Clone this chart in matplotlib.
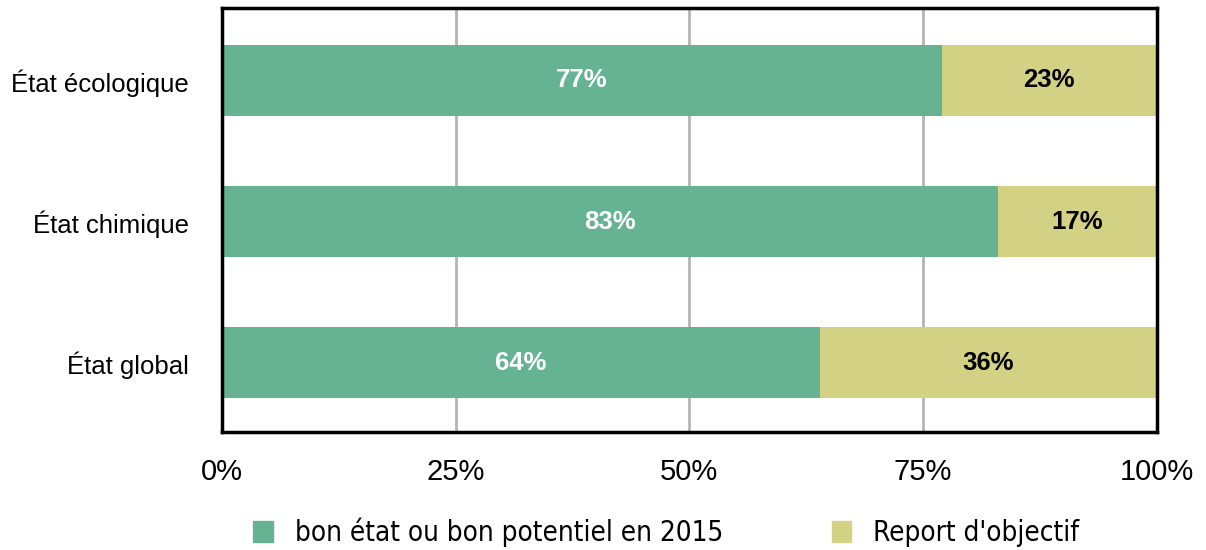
import matplotlib
matplotlib.use("Agg")
from matplotlib import pyplot as plt
from matplotlib.patches import Patch

categories = ["État écologique", "État chimique", "État global"]
bon_etat = [77, 83, 64]
report = [23, 17, 36]
x_ticks = [0, 25, 50, 75, 100]
x_ticklabels = ["0%", "25%", "50%", "75%", "100%"]
legend_labels = ["bon état ou bon potentiel en 2015", "Report d'objectif"]

green = "#66b394"
olive = "#d3d183"

plt.rcParams["font.family"] = ["Liberation Sans", "DejaVu Sans"]

fig = plt.figure(figsize=(12.06, 5.5), dpi=100)
ax = fig.add_axes([0.184, 0.2145, 0.775, 0.7705])

y = list(range(len(categories)))
ax.barh(y, bon_etat, height=0.5, color=green, zorder=2)
ax.barh(y, report, left=bon_etat, height=0.5, color=olive, zorder=2)

for i in y:
    ax.text(bon_etat[i] / 2, i, "{}%".format(bon_etat[i]), ha="center", va="center",
            color="white", fontsize=18.5, fontweight="bold", zorder=3)
    ax.text(bon_etat[i] + report[i] / 2, i, "{}%".format(report[i]), ha="center", va="center",
            color="black", fontsize=18.5, fontweight="bold", zorder=3)

ax.set_xlim(0, 100)
ax.set_ylim(2.49, -0.51)
ax.set_xticks(x_ticks)
ax.set_xticklabels(x_ticklabels, fontsize=21)
ax.set_yticks(y)
ax.set_yticklabels(categories, fontsize=18.5)
ax.tick_params(axis="y", length=0, pad=24)
ax.tick_params(axis="x", length=0, pad=19)
ax.xaxis.grid(True, color="#b4b4b4", linewidth=2, zorder=1)
for s in ax.spines.values():
    s.set_linewidth(2.5)
    s.set_color("black")

handles = [Patch(color=green), Patch(color=olive)]
fig.legend(handles, legend_labels, loc="lower center", bbox_to_anchor=(0.5525, -0.04), ncol=2,
           frameon=False, handlelength=0.7, handleheight=0.8, handletextpad=0.8, columnspacing=3.9,
           prop={"family": "DejaVu Sans", "stretch": "condensed", "size": 20})

plt.savefig("out.png", dpi=100)
